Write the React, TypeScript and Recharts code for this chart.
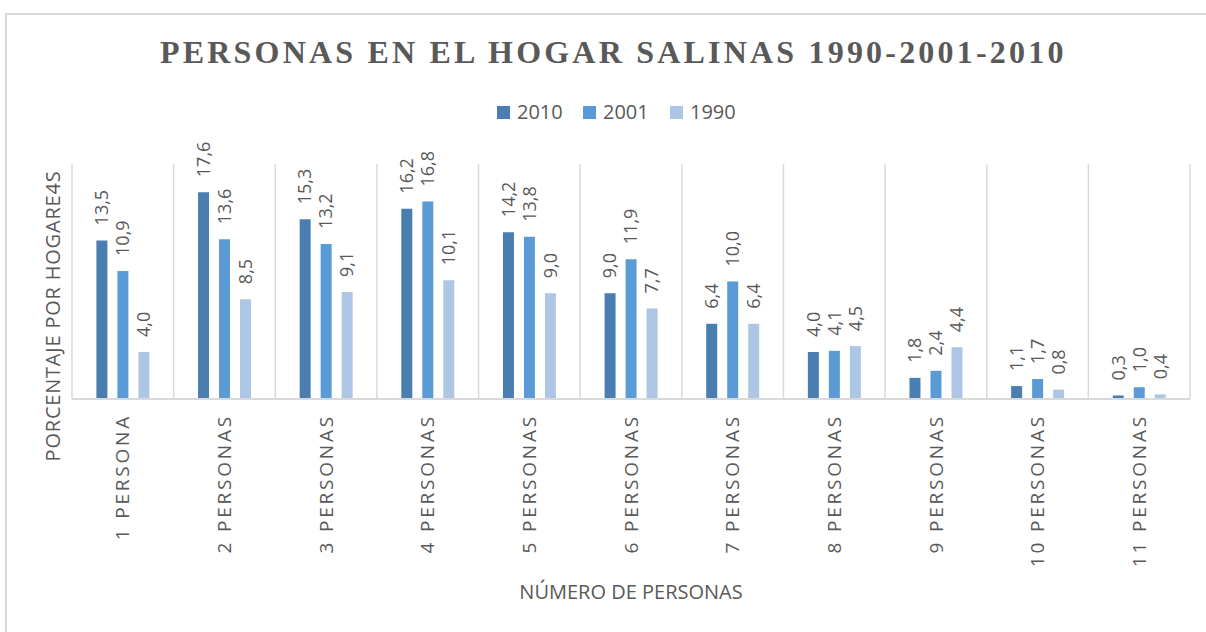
import { Bar, BarChart, CartesianGrid, LabelList, XAxis, YAxis } from "recharts";

const categorias = [
  "1 PERSONA",
  "2 PERSONAS",
  "3 PERSONAS",
  "4 PERSONAS",
  "5 PERSONAS",
  "6 PERSONAS",
  "7 PERSONAS",
  "8 PERSONAS",
  "9 PERSONAS",
  "10 PERSONAS",
  "11 PERSONAS",
];
const valores2010 = [13.5, 17.6, 15.3, 16.2, 14.2, 9.0, 6.4, 4.0, 1.8, 1.1, 0.3];
const valores2001 = [10.9, 13.6, 13.2, 16.8, 13.8, 11.9, 10.0, 4.1, 2.4, 1.7, 1.0];
const valores1990 = [4.0, 8.5, 9.1, 10.1, 9.0, 7.7, 6.4, 4.5, 4.4, 0.8, 0.4];

const series = [
  { key: "v2010", name: "2010", color: "#4a7eb0" },
  { key: "v2001", name: "2001", color: "#5b9bd5" },
  { key: "v1990", name: "1990", color: "#adc6e6" },
];

const data = categorias.map((cat, i) => ({
  cat,
  v2010: valores2010[i],
  v2001: valores2001[i],
  v1990: valores1990[i],
}));

const GRIS = "#595959";
const SANS = "'Open Sans', sans-serif";

const fmt = (v: unknown) => Number(v).toFixed(1).replace(".", ",");

const EtiquetaBarra = (props: any) => {
  const { x, y, width, value } = props;
  const cx = Number(x) + Number(width) / 2;
  const cy = Number(y) - 15;
  return (
    <text
      transform={`translate(${cx},${cy}) rotate(-90)`}
      textAnchor="start"
      dy="0.35em"
      fontSize={18}
      fontFamily={SANS}
      fill={GRIS}
    >
      {fmt(value)}
    </text>
  );
};

const TickCategoria = (props: any) => {
  const { x, y, payload } = props;
  return (
    <text
      transform={`translate(${x},${y + 15}) rotate(-90)`}
      textAnchor="end"
      dy="0.35em"
      fontSize={19}
      letterSpacing={2.8}
      fontFamily={SANS}
      fill={GRIS}
    >
      {payload.value}
    </text>
  );
};

export default function App() {
  return (
    <div style={{ position: "fixed", left: 0, top: 0, width: 1206, height: 632, overflow: "hidden", background: "#fff" }}>
      <div
        style={{
          position: "absolute",
          left: 5,
          top: 13,
          width: 1220,
          height: 640,
          border: "2px solid #d9d9d9",
        }}
      />
      <div style={{ position: "absolute", left: 0, top: 0 }}>
        <BarChart
          width={1206}
          height={632}
          data={data}
          margin={{ top: 164, right: 16, bottom: 33, left: 72 }}
          barCategoryGap="24%"
          barGap={10}
        >
          <CartesianGrid
            horizontal={false}
            stroke="#d9d9d9"
            strokeWidth={1.5}
            verticalCoordinatesGenerator={({ offset }: any) =>
              Array.from({ length: categorias.length + 1 }, (_, i) => offset.left + (i * offset.width) / categorias.length)
            }
          />
          <XAxis
            dataKey="cat"
            height={200}
            interval={0}
            tickLine={false}
            tickSize={0}
            tickMargin={0}
            axisLine={{ stroke: "#d9d9d9", strokeWidth: 2 }}
            tick={<TickCategoria />}
          />
          <YAxis hide domain={[0, 20]} width={0} />
          {series.map((s) => (
            <Bar key={s.key} dataKey={s.key} name={s.name} fill={s.color} isAnimationActive={false}>
              <LabelList dataKey={s.key} content={<EtiquetaBarra />} />
            </Bar>
          ))}
        </BarChart>
      </div>
      <svg width={1206} height={632} style={{ position: "absolute", left: 0, top: 0, pointerEvents: "none" }}>
        <text
          x={160}
          y={63}
          fontFamily="'Liberation Serif', 'Times New Roman', serif"
          fontWeight="bold"
          fontSize={32}
          letterSpacing={3.2}
          fill={GRIS}
        >
          PERSONAS EN EL HOGAR SALINAS 1990-2001-2010
        </text>
        {series.map((s, i) => {
          const x0 = [497, 583, 670][i];
          return (
            <g key={s.key}>
              <rect x={x0} y={106} width={13} height={13} fill={s.color} />
              <text x={x0 + 20} y={119} fontSize={20} fontFamily={SANS} fill={GRIS}>
                {s.name}
              </text>
            </g>
          );
        })}
        <text
          transform="translate(60,316) rotate(-90)"
          textAnchor="middle"
          fontSize={20}
          letterSpacing={0.8}
          fontFamily={SANS}
          fill={GRIS}
        >
          PORCENTAJE POR HOGARE4S
        </text>
        <text x={631} y={599} textAnchor="middle" fontSize={20} fontFamily={SANS} fill={GRIS}>
          NÚMERO DE PERSONAS
        </text>
      </svg>
    </div>
  );
}
